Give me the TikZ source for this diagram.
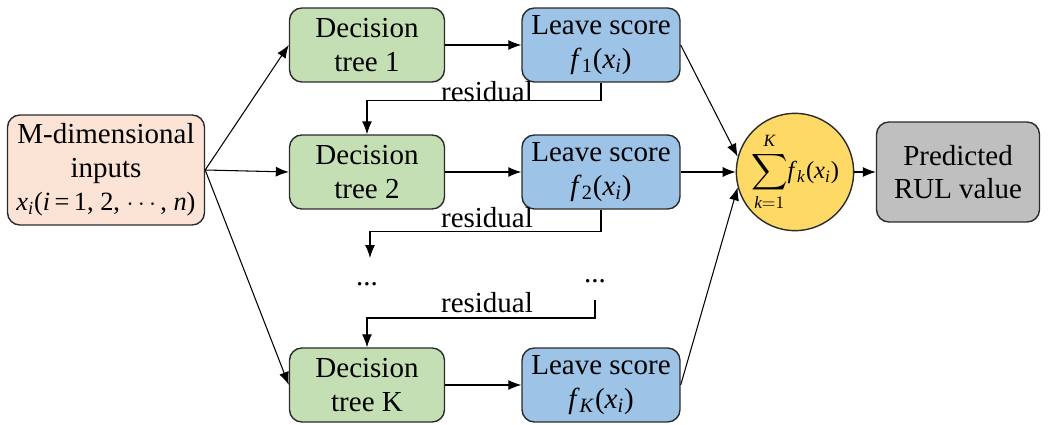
\documentclass[tikz,border=0pt]{standalone}
\usepackage{amsmath}
\usepackage{fontspec}
\setmainfont{Liberation Serif}
\usepackage{tikz}
\usetikzlibrary{arrows.meta,positioning,shapes.geometric}
\definecolor{gbpeach}{HTML}{FBE3D5}
\definecolor{gbgreen}{HTML}{C5DFB4}
\definecolor{gbblue}{HTML}{9DC3E6}
\definecolor{gbyellow}{HTML}{FFD966}
\definecolor{gbgray}{HTML}{BFBFBF}
\definecolor{gbdark}{HTML}{2B2B2B}
\newcommand{\ivar}[2]{\textit{#1}\textsubscript{#2}}
\tikzset{
  box/.style={rounded corners=7pt,draw=gbdark,thick,align=center,inner sep=2pt,font=\fontsize{16.5}{19}\selectfont},
  tree/.style={box,fill=gbgreen,minimum width=3.1cm,minimum height=1.48cm},
  leaf/.style={box,fill=gbblue,minimum width=3.16cm,minimum height=1.48cm},
  inbox/.style={box,fill=gbpeach,minimum width=3.94cm,minimum height=2.2cm},
  outbox/.style={box,fill=gbgray,minimum width=3.26cm,minimum height=2.0cm},
  sumnode/.style={circle,draw=gbdark,thick,fill=gbyellow,minimum size=1.88cm,inner sep=0pt},
  ar/.style={-{Latex[length=2.6mm,width=2mm]},draw=black,semithick},
  lbl/.style={font=\fontsize{16.5}{19}\selectfont,inner sep=1pt},
}
\begin{document}
\begin{tikzpicture}[x=0.02cm,y=-0.02cm]
  \useasboundingbox (0,0) rectangle (1048,425);
  \node[inbox] (in) at (106,170) {M-dimensional\\inputs\\{\fontsize{15}{17}\selectfont\ivar{x}{\textit{i}}(\textit{i}\,=\,1, 2, $\cdots$, \textit{n})}};
  \node[tree] (dt1) at (367,45) {Decision\\tree 1};
  \node[tree] (dt2) at (367,172) {Decision\\tree 2};
  \node[tree] (dtK) at (367,385) {Decision\\tree K};
  \node[leaf] (ls1) at (601,45) {Leave score\\\ivar{f}{1}(\ivar{x}{\textit{i}})};
  \node[leaf] (ls2) at (601,172) {Leave score\\\ivar{f}{2}(\ivar{x}{\textit{i}})};
  \node[leaf] (lsK) at (601,385) {Leave score\\\ivar{f}{\textit{K}}(\ivar{x}{\textit{i}})};
  \node[sumnode] (sum) at (795,172) {\fontsize{14}{15}\selectfont$\displaystyle\sum_{\textit{k}=1}^{\textit{K}}$\ivar{f}{\textit{k}}(\ivar{x}{\textit{i}})};
  \node[outbox] (out) at (958,172) {Predicted\\RUL value};
  \node[lbl] (dots1) at (367,284) {...};
  \node[lbl] (dots2) at (595,281) {...};
  % inputs to trees
  \draw[ar] (in.east) -- (dt1.west);
  \draw[ar] (in.east) -- (dt2.west);
  \draw[ar] (in.east) -- (dtK.west);
  \draw[ar] (dt1) -- (ls1);
  \draw[ar] (dt2) -- (ls2);
  \draw[ar] (dtK) -- (lsK);
  \draw[ar] (ls1.east) -- (sum.165);
  \draw[ar] (ls2.east) -- (sum.west);
  \draw[ar] (lsK.east) -- (sum.195);
  \draw[ar] (sum) -- (out);
  % residuals
  \draw[ar] (ls1.south) -- ++(0,18) -| (dt2.north);
  \node[lbl] (res1) at (487,92) {residual};
  \coordinate (d1) at (370,258);
  \draw[ar] (ls2.south) -- ++(0,22) -| (d1);
  \node[lbl] (res2) at (487,218) {residual};
  \coordinate (d2) at (595,300);
  \draw[ar] (d2) -- ++(0,18) -| (dtK.north);
  \node[lbl] (res3) at (487,303) {residual};
\end{tikzpicture}
\end{document}
